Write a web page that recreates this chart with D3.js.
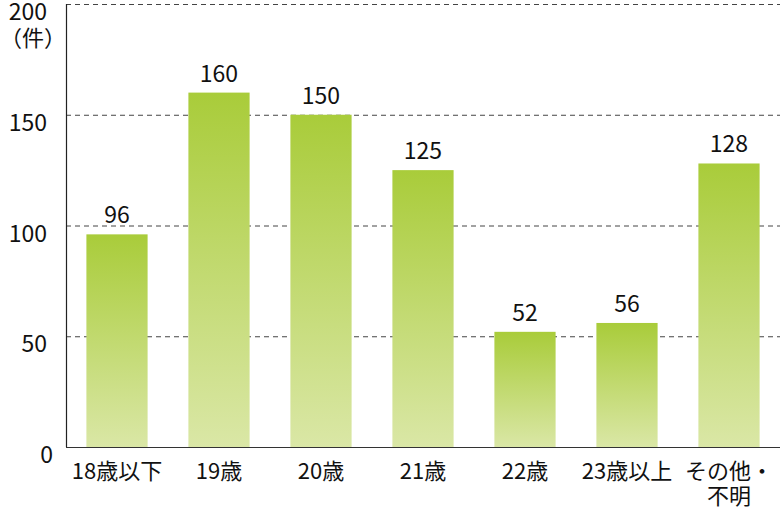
<!DOCTYPE html>
<html><head><meta charset="utf-8">
<script src="https://cdn.jsdelivr.net/npm/d3@7"></script>
<style>body{margin:0;background:#fff}svg{display:block}text{font-family:"Noto Sans CJK JP","Noto Sans",sans-serif;fill:#111;font-weight:400}</style>
</head><body><svg id="c" width="780" height="510"></svg>
<script>
const categories = ["18歳以下","19歳","20歳","21歳","22歳","23歳以上","その他・\n不明"];
const values = [96,160,150,125,52,56,128];
const yTicks = [0,50,100,150,200];
const unitLabel = "（件）";

const svg = d3.select("#c");
const x = d3.scaleBand().domain(categories).range([66,780]).paddingInner(0.4).paddingOuter(0.2);
const y = d3.scaleLinear().domain([0,200]).range([447,4]);

const defs = svg.append("defs");
const g = defs.append("linearGradient").attr("id","gr").attr("x1",0).attr("y1",0).attr("x2",0).attr("y2",1);
g.append("stop").attr("offset","0%").attr("stop-color","#a9cc3a");
g.append("stop").attr("offset","100%").attr("stop-color","#dae7a6");

// gridlines
svg.selectAll(".grid").data(yTicks.filter(d=>d>0)).enter().append("line")
  .attr("x1",66).attr("x2",780).attr("y1",d=>y(d)+0.5).attr("y2",d=>y(d)+0.5)
  .attr("stroke","#444").attr("stroke-width",1).attr("stroke-dasharray","5,4");

// bars
svg.selectAll(".bar").data(values).enter().append("rect")
  .attr("x",(d,i)=>x(categories[i])).attr("width",x.bandwidth())
  .attr("y",d=>y(d)).attr("height",d=>y(0)-y(d)).attr("fill","url(#gr)");

// axes lines
svg.append("line").attr("x1",66.5).attr("x2",66.5).attr("y1",4).attr("y2",447).attr("stroke","#222").attr("stroke-width",1.2);
svg.append("line").attr("x1",66).attr("x2",780).attr("y1",447.5).attr("y2",447.5).attr("stroke","#333").attr("stroke-width",1.2);

// y tick labels
svg.selectAll(".yt").data(yTicks).enter().append("text")
  .attr("x",d=>d===0?53:47).attr("y",d=>y(d)+16).attr("text-anchor","end").attr("font-size",23).text(d=>d);
svg.append("text").attr("x",66).attr("y",46).attr("text-anchor","end").attr("font-size",22).text(unitLabel);

// value labels
svg.selectAll(".vl").data(values).enter().append("text")
  .attr("x",(d,i)=>x(categories[i])+x.bandwidth()/2).attr("y",d=>y(d)-11)
  .attr("text-anchor","middle").attr("font-size",23).text(d=>d);

// category labels
categories.forEach(c=>{
  const lines = c.split("\n");
  const t = svg.append("text").attr("text-anchor","middle").attr("font-size",22);
  lines.forEach((l,i)=>{
    t.append("tspan").attr("x",x(c)+x.bandwidth()/2).attr("y",479+i*25).text(l);
  });
});
</script></body></html>
